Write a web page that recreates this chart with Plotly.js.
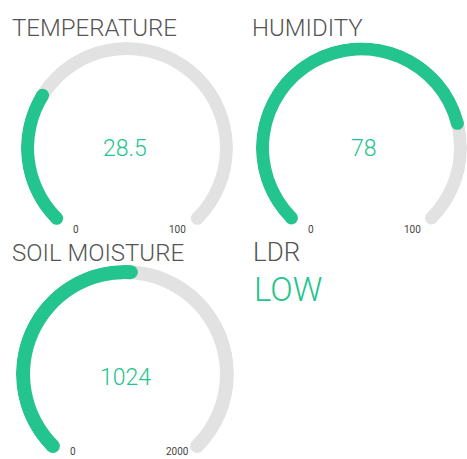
<!DOCTYPE html>
<html><head><meta charset="utf-8">
<script src="https://cdn.plot.ly/plotly-3.0.1.min.js"></script>
<style>html,body{margin:0;padding:0;background:#fff}#chart{width:467px;height:459px}</style>
</head><body><div id="chart"></div>
<script>
// ---- data ----
const gaugeTitles = ['TEMPERATURE', 'HUMIDITY', 'SOIL MOISTURE'];
const gaugeValues = [28.5, 78, 1024];
const gaugeMins = [0, 0, 0];
const gaugeMaxes = [100, 100, 2000];
const ldrTitle = 'LDR';
const ldrValue = 'LOW';

// ---- layout constants (pixels) ----
const W = 467, H = 459;
const SWEEP = 270;
const GREEN = '#23C48E', GRAY = '#E2E2E2', TITLE = '#555555', TICK = '#444444';
const FONT = 'Roboto, sans-serif';
// per gauge: left, top of outer circle, radius, stroke thickness
const geo = [
  {left: 21, top: 42, r: 106, t: 13, titleX: 10, titleY: 28, valX: 125, valY: 148, tickY: 230},
  {left: 256, top: 42, r: 106, t: 13, titleX: 250, titleY: 28, valX: 364, valY: 148, tickY: 230},
  {left: 16, top: 265, r: 109, t: 14, titleX: 10, titleY: 253, valX: 125, valY: 377, tickY: 451}
];
const px = x => x / W;
const py = y => 1 - y / H;
const K = 1 + Math.SQRT1_2; // sector bbox height / r

const traces = [];
const layout = {
  width: W, height: H, margin: {l: 0, r: 0, t: 0, b: 0},
  paper_bgcolor: '#fff', plot_bgcolor: '#fff', showlegend: false,
  hovermode: false, annotations: []
};

gaugeValues.forEach((v, i) => {
  const g = geo[i];
  const key = i === 0 ? 'polar' : 'polar' + (i + 1);
  const x1 = Math.min(W, g.left + 2 * g.r);
  layout[key] = {
    domain: {x: [px(g.left), px(x1)], y: [py(g.top + K * g.r), py(g.top)]},
    sector: [-45, 225],
    bgcolor: 'rgba(0,0,0,0)',
    radialaxis: {visible: false, range: [0, 1], autorange: false, showgrid: false, showline: false, showticklabels: false, ticks: ''},
    angularaxis: {visible: false, rotation: 225, direction: 'clockwise', showgrid: false, showline: false, showticklabels: false, ticks: ''}
  };
  const rin = 1 - g.t / g.r, rmid = 1 - g.t / (2 * g.r);
  const deg = (v - gaugeMins[i]) / (gaugeMaxes[i] - gaugeMins[i]) * SWEEP;
  traces.push({type: 'barpolar', subplot: key, theta: [SWEEP / 2], width: [SWEEP], r: [1 - rin], base: [rin],
    marker: {color: GRAY, line: {width: 0}}, hoverinfo: 'skip'});
  traces.push({type: 'scatterpolar', subplot: key, mode: 'markers', theta: [SWEEP], r: [rmid], cliponaxis: false,
    marker: {color: GRAY, size: g.t, line: {width: 0}}, hoverinfo: 'skip'});
  traces.push({type: 'barpolar', subplot: key, theta: [deg / 2], width: [deg], r: [1 - rin], base: [rin],
    marker: {color: GREEN, line: {width: 0}}, hoverinfo: 'skip'});
  traces.push({type: 'scatterpolar', subplot: key, mode: 'markers', theta: [0, deg], r: [rmid, rmid], cliponaxis: false,
    marker: {color: GREEN, size: g.t, line: {width: 0}}, hoverinfo: 'skip'});

  const cx = g.left + g.r;
  layout.annotations.push({xref: 'paper', yref: 'paper', x: px(g.titleX), y: py(g.titleY), xanchor: 'left', yanchor: 'middle',
    text: gaugeTitles[i], showarrow: false, font: {family: FONT, size: 24, color: TITLE, weight: 300}});
  layout.annotations.push({xref: 'paper', yref: 'paper', x: px(g.valX), y: py(g.valY), xanchor: 'center', yanchor: 'middle',
    text: String(v), showarrow: false, font: {family: FONT, size: 23, color: GREEN, weight: 300}});
  layout.annotations.push({xref: 'paper', yref: 'paper', x: px(cx - 0.48 * g.r), y: py(g.tickY), xanchor: 'center', yanchor: 'middle',
    text: String(gaugeMins[i]), showarrow: false, font: {family: FONT, size: 10, color: TICK}});
  layout.annotations.push({xref: 'paper', yref: 'paper', x: px(cx + 0.48 * g.r), y: py(g.tickY), xanchor: 'center', yanchor: 'middle',
    text: String(gaugeMaxes[i]), showarrow: false, font: {family: FONT, size: 10, color: TICK}});
});

layout.annotations.push({xref: 'paper', yref: 'paper', x: px(251), y: py(252), xanchor: 'left', yanchor: 'middle',
  text: ldrTitle, showarrow: false, font: {family: FONT, size: 26, color: TITLE, weight: 300}});
layout.annotations.push({xref: 'paper', yref: 'paper', x: px(252), y: py(289), xanchor: 'left', yanchor: 'middle',
  text: ldrValue, showarrow: false, font: {family: FONT, size: 33, color: GREEN, weight: 300}});

Plotly.newPlot('chart', traces, layout, {staticPlot: true, displayModeBar: false});
</script></body></html>
